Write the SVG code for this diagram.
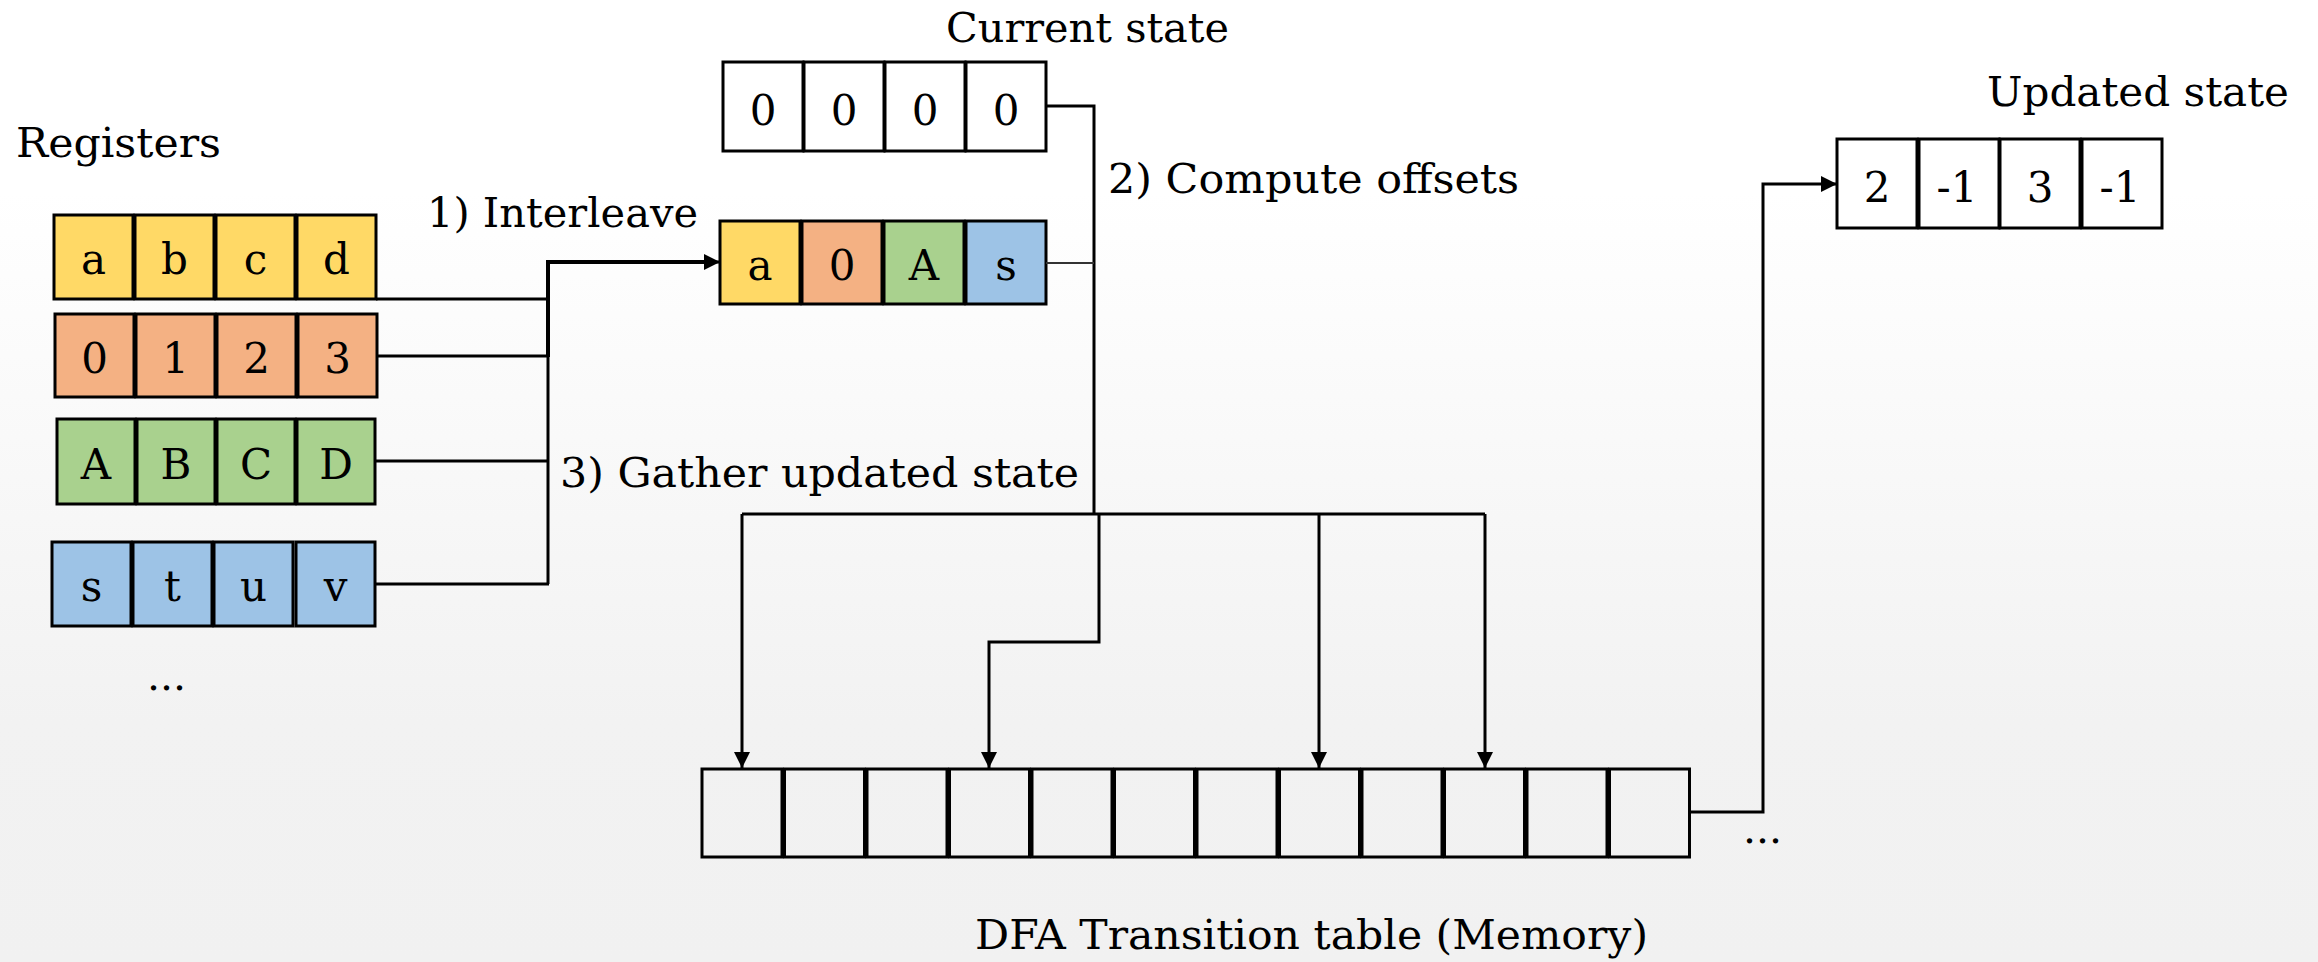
<svg xmlns="http://www.w3.org/2000/svg" width="2318" height="962" viewBox="0 0 2318 962">
  <defs>
    <linearGradient id="bg" x1="0" y1="0" x2="0" y2="1">
      <stop offset="0.2" stop-color="#ffffff"/>
      <stop offset="0.75" stop-color="#f2f2f2"/>
      <stop offset="1" stop-color="#f1f1f1"/>
    </linearGradient>
    <marker id="arrow" markerUnits="userSpaceOnUse" markerWidth="17" markerHeight="17" refX="16" refY="8" orient="auto">
      <path d="M0,0 L16,8 L0,16 z" fill="#000"/>
    </marker>
    <style>
      .cell { stroke: #000; stroke-width: 3; }
      .y { fill: #FFD966; }
      .o { fill: #F4B183; }
      .g { fill: #A9D18E; }
      .b { fill: #9DC3E6; }
      .w { fill: #ffffff; }
      .m { fill: none; }
      .ct { font-family: "DejaVu Serif", "Liberation Serif", serif; font-size: 42px; fill: #000; text-anchor: middle; }
      .lbl { font-family: "DejaVu Serif", "Liberation Serif", serif; font-size: 41px; fill: #000; }
      .wire { fill: none; stroke: #000; stroke-width: 3; }
    </style>
  </defs>

  <rect x="0" y="0" width="2318" height="962" fill="url(#bg)"/>

  <!-- register file -->
  <g id="registers-label">
    <text class="lbl" x="16" y="157" textLength="205" lengthAdjust="spacingAndGlyphs">Registers</text>
  </g>

  <g id="reg-abcd">
    <rect class="cell y" x="54" y="215" width="79" height="84"/>
    <rect class="cell y" x="135" y="215" width="79" height="84"/>
    <rect class="cell y" x="216" y="215" width="79" height="84"/>
    <rect class="cell y" x="297" y="215" width="79" height="84"/>
    <text class="ct" x="93.5" y="274">a</text>
    <text class="ct" x="174.5" y="274">b</text>
    <text class="ct" x="255.5" y="274">c</text>
    <text class="ct" x="336.5" y="274">d</text>
  </g>

  <g id="reg-0123">
    <rect class="cell o" x="55" y="314" width="79" height="83"/>
    <rect class="cell o" x="136" y="314" width="79" height="83"/>
    <rect class="cell o" x="217" y="314" width="79" height="83"/>
    <rect class="cell o" x="298" y="314" width="79" height="83"/>
    <text class="ct" x="94.5" y="373">0</text>
    <text class="ct" x="175.5" y="373">1</text>
    <text class="ct" x="256.5" y="373">2</text>
    <text class="ct" x="337.5" y="373">3</text>
  </g>

  <g id="reg-ABCD">
    <rect class="cell g" x="57" y="419" width="78" height="85"/>
    <rect class="cell g" x="137" y="419" width="78" height="85"/>
    <rect class="cell g" x="217" y="419" width="78" height="85"/>
    <rect class="cell g" x="297" y="419" width="78" height="85"/>
    <text class="ct" x="96" y="479">A</text>
    <text class="ct" x="176" y="479">B</text>
    <text class="ct" x="256" y="479">C</text>
    <text class="ct" x="336" y="479">D</text>
  </g>

  <g id="reg-stuv">
    <rect class="cell b" x="52" y="542" width="79" height="84"/>
    <rect class="cell b" x="133" y="542" width="79" height="84"/>
    <rect class="cell b" x="214" y="542" width="79" height="84"/>
    <rect class="cell b" x="296" y="542" width="79" height="84"/>
    <text class="ct" x="91.5" y="601">s</text>
    <text class="ct" x="172.5" y="601">t</text>
    <text class="ct" x="253.5" y="601">u</text>
    <text class="ct" x="335.5" y="601">v</text>
  </g>

  <g id="reg-more">
    <text class="lbl" x="147" y="690">...</text>
  </g>

  <!-- current state vector -->
  <g id="current-state">
    <text class="lbl" x="946" y="42" textLength="283" lengthAdjust="spacingAndGlyphs">Current state</text>
    <rect class="cell w" x="723" y="62" width="80" height="89"/>
    <rect class="cell w" x="804" y="62" width="80" height="89"/>
    <rect class="cell w" x="885" y="62" width="80" height="89"/>
    <rect class="cell w" x="966" y="62" width="80" height="89"/>
    <text class="ct" x="763" y="125">0</text>
    <text class="ct" x="844" y="125">0</text>
    <text class="ct" x="925" y="125">0</text>
    <text class="ct" x="1006" y="125">0</text>
  </g>

  <!-- interleaved input -->
  <g id="interleaved">
    <rect class="cell y" x="720" y="221" width="80" height="83"/>
    <rect class="cell o" x="802" y="221" width="80" height="83"/>
    <rect class="cell g" x="884" y="221" width="80" height="83"/>
    <rect class="cell b" x="966" y="221" width="80" height="83"/>
    <text class="ct" x="760" y="280">a</text>
    <text class="ct" x="842" y="280">0</text>
    <text class="ct" x="924" y="280">A</text>
    <text class="ct" x="1006" y="280">s</text>
  </g>

  <!-- updated state vector -->
  <g id="updated-state">
    <text class="lbl" x="1987" y="106" textLength="302" lengthAdjust="spacingAndGlyphs">Updated state</text>
    <rect class="cell w" x="1837" y="139" width="80" height="89"/>
    <rect class="cell w" x="1919" y="139" width="80" height="89"/>
    <rect class="cell w" x="2000" y="139" width="80" height="89"/>
    <rect class="cell w" x="2082" y="139" width="80" height="89"/>
    <text class="ct" x="1877" y="202">2</text>
    <text class="ct" x="1957" y="202">-1</text>
    <text class="ct" x="2040" y="202">3</text>
    <text class="ct" x="2120" y="202">-1</text>
  </g>

  <!-- transition table in memory -->
  <g id="transition-table">
    <rect class="cell m" x="702" y="769" width="80" height="88"/>
    <rect class="cell m" x="784.5" y="769" width="80" height="88"/>
    <rect class="cell m" x="867" y="769" width="80" height="88"/>
    <rect class="cell m" x="949.5" y="769" width="80" height="88"/>
    <rect class="cell m" x="1032" y="769" width="80" height="88"/>
    <rect class="cell m" x="1114.5" y="769" width="80" height="88"/>
    <rect class="cell m" x="1197" y="769" width="80" height="88"/>
    <rect class="cell m" x="1279.5" y="769" width="80" height="88"/>
    <rect class="cell m" x="1362" y="769" width="80" height="88"/>
    <rect class="cell m" x="1444.5" y="769" width="80" height="88"/>
    <rect class="cell m" x="1527" y="769" width="80" height="88"/>
    <rect class="cell m" x="1609.5" y="769" width="80" height="88"/>
    <text class="lbl" x="1743" y="843">...</text>
    <text class="lbl" x="975" y="949" textLength="673" lengthAdjust="spacingAndGlyphs">DFA Transition table (Memory)</text>
  </g>

  <!-- step labels -->
  <g id="step-labels">
    <text class="lbl" x="427" y="227" textLength="271" lengthAdjust="spacingAndGlyphs">1) Interleave</text>
    <text class="lbl" x="1108" y="193" textLength="411" lengthAdjust="spacingAndGlyphs">2) Compute offsets</text>
    <text class="lbl" x="560" y="487" textLength="519" lengthAdjust="spacingAndGlyphs">3) Gather updated state</text>
  </g>

  <!-- connectors -->
  <g id="connectors">
    <path class="wire" d="M376 299 H548"/>
    <path class="wire" d="M377 356 H548"/>
    <path class="wire" d="M375 461 H548"/>
    <path class="wire" d="M375 584 H549"/>
    <path class="wire" d="M548 357 V584"/>
    <path class="wire" style="stroke-width:4" d="M548 357 V262 H704"/>
    <path class="wire" d="M700 262 H720" marker-end="url(#arrow)"/>
    <path class="wire" d="M1046 106 H1094 V514"/>
    <path class="wire" style="stroke-width:2;stroke:#333" d="M1046 263 H1094"/>
    <path class="wire" d="M742 514 H1485"/>
    <path class="wire" d="M742 514 V768" marker-end="url(#arrow)"/>
    <path class="wire" d="M1099 514 V642 H989 V768" marker-end="url(#arrow)"/>
    <path class="wire" d="M1319 514 V768" marker-end="url(#arrow)"/>
    <path class="wire" d="M1485 514 V768" marker-end="url(#arrow)"/>
    <path class="wire" d="M1690 812 H1763 V184 H1837" marker-end="url(#arrow)"/>
  </g>
</svg>
